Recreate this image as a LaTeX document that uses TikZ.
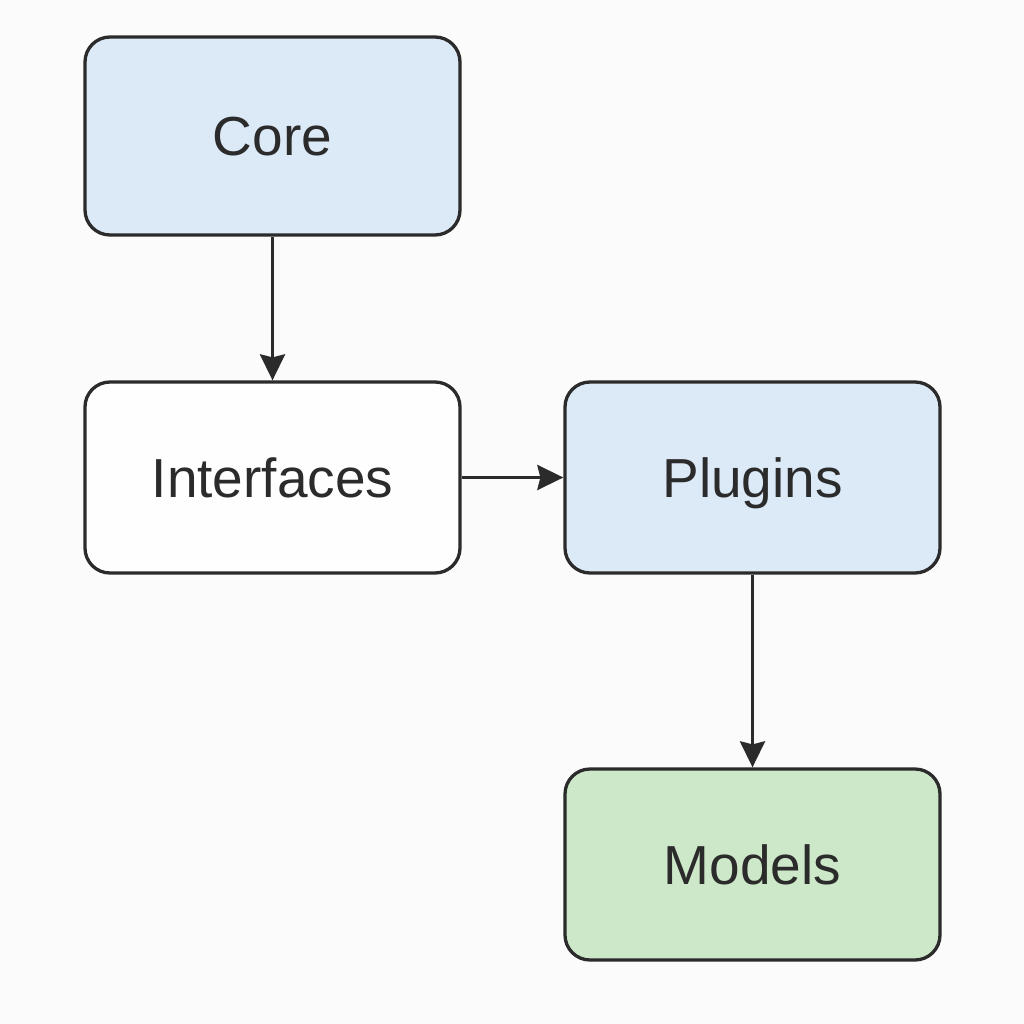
\documentclass[tikz,border=0pt]{standalone}
\usepackage{fontspec}
\setmainfont{Liberation Sans}
\usetikzlibrary{arrows.meta}
\definecolor{bg}{HTML}{FBFBFB}
\definecolor{edge}{HTML}{2B2B2B}
\definecolor{bluef}{HTML}{DCE9F7}
\definecolor{greenf}{HTML}{CDE8C8}
\definecolor{whitef}{HTML}{FEFEFE}
\tikzset{
  box/.style={draw=edge, line width=3.3pt, rounded corners=25pt, minimum width=375pt, minimum height=194pt, inner sep=0pt, text height=40pt, text depth=0pt, font=\fontsize{55pt}{60pt}\selectfont, text=edge, anchor=center},
  conn/.style={draw=edge, line width=3.2pt, -{Stealth[length=26pt,width=25pt,inset=3pt]}}
}
\begin{document}
\begin{tikzpicture}[x=1pt,y=-1pt]
\fill[bg] (0,0) rectangle (1024,1024);
\useasboundingbox (0,0) rectangle (1024,1024);
\node[box, fill=bluef, minimum height=198pt] (core) at (272.5,136) {Core};
\node[box, fill=whitef, minimum height=191pt] (intf) at (272.5,477.5) {Interfaces};
\node[box, fill=bluef, minimum height=191pt] (plug) at (752.5,477.5) {Plugins};
\node[box, fill=greenf, minimum height=191pt] (model) at (752.5,864.5) {Models};
\draw[conn] (core.south) -- (intf.north);
\draw[conn] (intf.east) -- (plug.west);
\draw[conn] (plug.south) -- (model.north);
\end{tikzpicture}
\end{document}
